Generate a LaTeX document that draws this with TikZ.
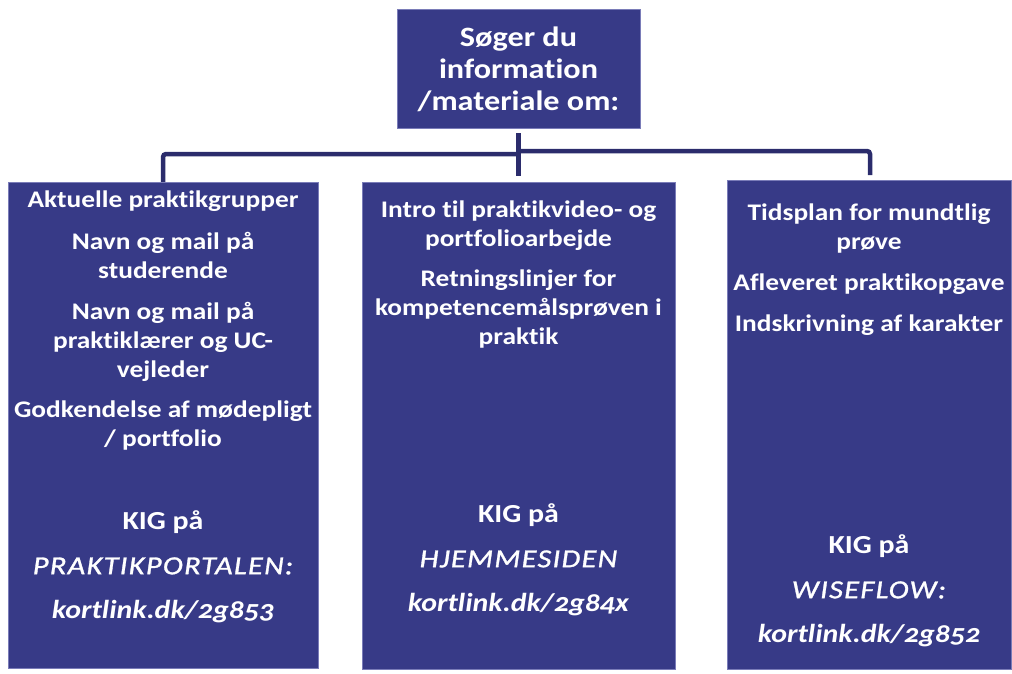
\documentclass[tikz,border=0pt]{standalone}
\usepackage{fontspec}
\setmainfont{Carlito}[Numbers=OldStyle,Ligatures=NoCommon]
\newfontfamily\widefont{Carlito}[Numbers=OldStyle,FakeStretch=1.15,Ligatures=NoCommon]
\newfontfamily\capsfont{Carlito}[FakeStretch=1.17,LetterSpace=5,FakeBold=1.2]
\definecolor{boxfill}{HTML}{373A87}
\definecolor{boxline}{HTML}{7A7CB8}
\definecolor{conn}{HTML}{2B2C6C}
\begin{document}
\begin{tikzpicture}[x=1pt,y=-1pt,
  panel/.style={draw=boxline,line width=0.8pt,fill=boxfill},
  txt/.style={text=white,font=\widefont\fontsize{23.8}{29}\selectfont\bfseries,align=center,inner sep=0pt},
  big/.style={text=white,font=\widefont\fontsize{26}{44.5}\selectfont\bfseries,align=center,inner sep=0pt},
  toptxt/.style={text=white,font=\widefont\fontsize{28}{32}\selectfont\bfseries,align=center,inner sep=0pt},
  connline/.style={draw=conn,line width=4.5pt,rounded corners=3pt}]
\useasboundingbox (0,0) rectangle (1012,673);
% boxes
\path[panel] (397,9) rectangle (640,128);
\path[panel] (8,182) rectangle (318,668);
\path[panel] (362,182) rectangle (675,669);
\path[panel] (727,180) rectangle (1011,669);
\node[toptxt] (top) at (518.5,69) {Søger du\\information\\/materiale om:};
\node[inner sep=0pt,minimum width=310pt,minimum height=486pt] (L) at (163,425) {};
% connectors
\coordinate (vtop) at (518,133);
\coordinate (vbot) at (518,176);
\coordinate (lc) at (163,154);
\coordinate (rc) at (870,151);
\draw[connline] (L.north -| lc) -- (lc) -- (lc -| vtop);
\draw[connline] (rc -| vtop) -- (rc) -- (870,175);
\draw[draw=conn,line width=5pt] (vtop) -- (vbot);
% left texts
\node[txt] (l1) at (163,201) {Aktuelle praktikgrupper};
\node[txt] (l2) at (163,255) {Navn og mail på\\studerende};
\node[txt] (l3) at (163,342) {Navn og mail på\\praktiklærer og UC-\\vejleder};
\node[txt] (l4) at (163,426) {Godkendelse af mødepligt\\/ portfolio};
\node[big] (l5) at (163,567) {KIG på\\{\capsfont\mdseries\itshape PRAKTIKPORTALEN:}\\\textit{kortlink.dk/2g853}};
% middle texts
\node[txt] (m1) at (518.5,225.5) {Intro til praktikvideo- og\\portfolioarbejde};
\node[txt] (m2) at (518.5,309.5) {Retningslinjer for\\kompetencemålsprøven i\\praktik};
\node[big] (m3) at (518.5,560) {KIG på\\{\capsfont\mdseries\itshape HJEMMESIDEN}\\\textit{kortlink.dk/2g84x}};
% right texts
\node[txt] (r1) at (869,228.5) {Tidsplan for mundtlig\\prøve};
\node[txt] (r2) at (869,284) {Afleveret praktikopgave};
\node[txt] (r3) at (869,325) {Indskrivning af karakter};
\node[big] (r4) at (869,591) {KIG på\\{\capsfont\mdseries\itshape WISEFLOW:}\\\textit{kortlink.dk/2g852}};
\end{tikzpicture}
\end{document}
